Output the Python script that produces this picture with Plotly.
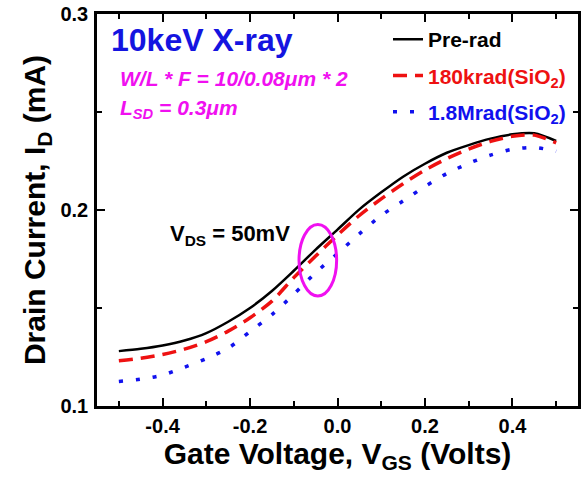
import plotly.graph_objects as go

# Gate voltage sweep (V)
vgs = [-0.50, -0.45, -0.40, -0.35, -0.30, -0.25, -0.20, -0.15, -0.10, -0.05,
       0.00, 0.05, 0.10, 0.15, 0.20, 0.25, 0.30, 0.35, 0.40, 0.45, 0.50]

# Drain current (mA) for each dose
id_prerad = [0.1280, 0.1292, 0.1309, 0.1334, 0.1372, 0.1430, 0.1500, 0.1587, 0.1690, 0.1798,
             0.1900, 0.2003, 0.2090, 0.2170, 0.2236, 0.2292, 0.2331, 0.2364, 0.2386, 0.2391, 0.2352]
id_180krad = [0.1231, 0.1244, 0.1263, 0.1290, 0.1328, 0.1382, 0.1450, 0.1535, 0.1655, 0.1765,
              0.1872, 0.1972, 0.2057, 0.2134, 0.2204, 0.2262, 0.2311, 0.2350, 0.2376, 0.2382, 0.2342]
id_1p8mrad = [0.1125, 0.1137, 0.1158, 0.1198, 0.1242, 0.1295, 0.1380, 0.1466, 0.1570, 0.1680,
              0.1778, 0.1878, 0.1972, 0.2046, 0.2120, 0.2186, 0.2238, 0.2280, 0.2310, 0.2319, 0.2300]

series_names = ["Pre-rad", "180krad(SiO<sub>2</sub>)", "1.8Mrad(SiO<sub>2</sub>)"]

x_ticks = [-0.4, -0.2, 0.0, 0.2, 0.4]
x_tick_labels = ["-0.4", "-0.2", "0.0", "0.2", "0.4"]
y_ticks = [0.1, 0.2, 0.3]
y_tick_labels = ["0.1", "0.2", "0.3"]

FONT = "Arial, Liberation Sans, sans-serif"
BLACK = "#000000"
RED = "#EE1111"
BLUE = "#1111EE"
MAGENTA = "#F010F0"

fig = go.Figure()

styles = [
    (id_prerad, BLACK, "solid", 2.5),
    (id_180krad, RED, "14px,8px", 3.5),
    (id_1p8mrad, BLUE, "4px,13px", 3.5),
]
for i, (ys, color, dash, width) in enumerate(styles):
    fig.add_trace(go.Scatter(
        x=vgs, y=ys, mode="lines",
        line=dict(color=color, dash=dash, width=width, shape="spline", smoothing=0.8),
        name=f"<span style='color:{color}'>{series_names[i]}</span>",
        legendgroup=f"g{i}",
    ))

# Ellipse around the crossover region
fig.add_shape(type="circle", xref="x", yref="y",
              x0=-0.088, x1=-0.002, y0=0.1561, y1=0.1926,
              line=dict(color=MAGENTA, width=3))

ann_font = dict(family=FONT, weight="bold")
fig.add_annotation(x=-0.523, y=0.2865, xref="x", yref="y", xanchor="left", yanchor="middle",
                   text="10keV X-ray", showarrow=False,
                   font=dict(size=32, color="#1414E0", **ann_font))
fig.add_annotation(x=-0.503, y=0.2671, xref="x", yref="y", xanchor="left", yanchor="middle",
                   text="<i>W/L * F = 10/0.08μm * 2</i>", showarrow=False,
                   font=dict(size=21, color=MAGENTA, **ann_font))
fig.add_annotation(x=-0.503, y=0.2515, xref="x", yref="y", xanchor="left", yanchor="middle",
                   text="<i>L<sub>SD</sub> = 0.3μm</i>", showarrow=False,
                   font=dict(size=21, color=MAGENTA, **ann_font))
fig.add_annotation(x=-0.388, y=0.1875, xref="x", yref="y", xanchor="left", yanchor="middle",
                   text="V<sub>DS</sub> = 50mV", showarrow=False,
                   font=dict(size=22, color=BLACK, **ann_font))

axis_common = dict(
    showline=True, linecolor=BLACK, linewidth=2.5, mirror="ticks",
    ticks="inside", ticklen=8, tickwidth=2, tickcolor=BLACK,
    showgrid=False, zeroline=False,
    tickfont=dict(family=FONT, size=20, color=BLACK, weight="bold"),
)

fig.update_xaxes(
    range=[-0.55, 0.55], tickvals=x_ticks, ticktext=x_tick_labels,
    minor=dict(dtick=0.1, tick0=0, ticks="inside", ticklen=5, tickwidth=2, tickcolor=BLACK),
    title=dict(text="Gate Voltage, V<sub>GS</sub> (Volts)", standoff=4,
               font=dict(family=FONT, size=30, color=BLACK, weight="bold")),
    ticklabelstandoff=0,
    **axis_common,
)
fig.update_yaxes(
    range=[0.1, 0.3], tickvals=y_ticks, ticktext=y_tick_labels,
    minor=dict(dtick=0.05, tick0=0, ticks="inside", ticklen=5, tickwidth=2, tickcolor=BLACK),
    title=dict(text="Drain Current, I<sub>D</sub> (mA)", standoff=6,
               font=dict(family=FONT, size=30, color=BLACK, weight="bold")),
    ticklabelstandoff=2,
    **axis_common,
)

fig.update_layout(
    width=583, height=478,
    margin=dict(l=97, r=5, t=14, b=72, autoexpand=False),
    paper_bgcolor="white", plot_bgcolor="white",
    showlegend=True,
    legend=dict(x=0.605, y=0.987, xanchor="left", yanchor="top",
                bgcolor="rgba(0,0,0,0)", traceorder="grouped", tracegroupgap=6,
                font=dict(family=FONT, size=21, color=BLACK, weight="bold")),
)

fig.write_html("out.html")
